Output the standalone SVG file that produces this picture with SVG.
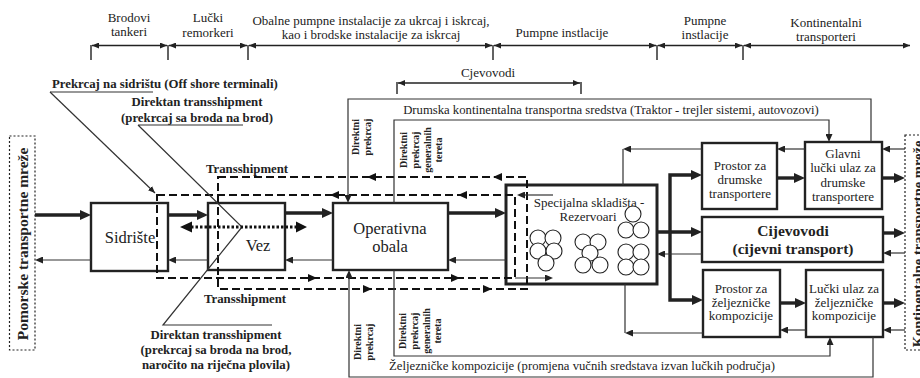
<svg xmlns="http://www.w3.org/2000/svg" xmlns:xlink="http://www.w3.org/1999/xlink" width="920" height="378" viewBox="0 0 920 378" font-family="'Liberation Serif', 'Times New Roman', serif">
<style>
  text { font-family: "Liberation Serif", "Times New Roman", serif; fill: #222; }
  .t13 { font-size: 13px; }
  .long { font-size: 12.7px; text-anchor: middle; }
  .b13 { font-size: 12.8px; font-weight: bold; }
  .bx { font-size: 13px; text-anchor: middle; }
  .big { font-size: 16.5px; text-anchor: middle; }
  .pipe { font-size: 15.5px; font-weight: bold; text-anchor: middle; }
  .vl { font-size: 10px; font-weight: bold; text-anchor: middle; }
  .box { fill: #fff; stroke: #222; stroke-width: 2.4; }
  .store { fill: #fff; stroke: #222; stroke-width: 3; }
  .net { fill: none; stroke: #222; stroke-width: 1.2; stroke-dasharray: 2 2; }
  .thin { fill: none; stroke: #333; stroke-width: 1.2; }
  .dim { fill: none; stroke: #222; stroke-width: 1.4; }
  .thick { fill: none; stroke: #222; stroke-width: 3.4; }
  .dash { fill: none; stroke: #111; stroke-width: 2; stroke-dasharray: 8 4; }
  .tank { fill: #fff; stroke: #222; stroke-width: 1.1; }
</style>
<defs>
  <marker id="aT" markerUnits="userSpaceOnUse" markerWidth="11" markerHeight="10" refX="4" refY="5" orient="auto-start-reverse">
    <path d="M0,0 L11,5 L0,10 z" fill="#222"/>
  </marker>
  <marker id="at" markerUnits="userSpaceOnUse" markerWidth="8" markerHeight="7" refX="3" refY="3.5" orient="auto-start-reverse">
    <path d="M0,0 L8,3.5 L0,7 z" fill="#222"/>
  </marker>
  <marker id="as" markerUnits="userSpaceOnUse" markerWidth="7" markerHeight="6" refX="7" refY="3" orient="auto-start-reverse">
    <path d="M0,0 L7,3 L0,6 z" fill="#222"/>
  </marker>
  <path id="tl" d="M0,0 L9,-4 L9,4 z" fill="#111"/>
  <path id="tr" d="M0,0 L-9,-4 L-9,4 z" fill="#111"/>
</defs>
<rect width="920" height="378" fill="#fff"/>

<!-- range scale along the top -->
<g id="scale">
  <g class="t13" text-anchor="middle">
    <text x="129" y="22">Brodovi</text>
    <text x="129" y="36">tankeri</text>
    <text x="208" y="22">Lučki</text>
    <text x="208" y="37">remorkeri</text>
    <text x="371" y="25">Obalne pumpne instalacije za ukrcaj i iskrcaj,</text>
    <text x="371" y="39">kao i brodske instalacije za iskrcaj</text>
    <text x="562" y="37">Pumpne instlacije</text>
    <text x="705" y="25">Pumpne</text>
    <text x="705" y="39">instlacije</text>
    <text x="826" y="27">Kontinentalni</text>
    <text x="826" y="41">transporteri</text>
    <text x="488" y="77">Cjevovodi</text>
  </g>
  <path class="dim" d="M91,45 V60 M168,45 V60 M248,45 V60 M493,45 V60 M657,45 V60 M743,45 V60 M397,82 V94 M581,82 V94"/>
  <g class="dim" marker-start="url(#as)" marker-end="url(#as)">
    <path d="M92,45.5 H167"/>
    <path d="M169,45.5 H247"/>
    <path d="M249,45.5 H492"/>
    <path d="M494,45.5 H656"/>
    <path d="M658,45.5 H742"/>
    <path d="M744,45.5 H910"/>
    <path d="M398,83 H580"/>
  </g>
</g>

<!-- sea and land networks -->
<g id="pomorske">
  <rect class="net" x="9.5" y="136" width="25.5" height="214"/>
  <text transform="translate(28,244) rotate(-90)" style="font-size:15.5px;font-weight:bold;text-anchor:middle">Pomorske transportne mreže</text>
</g>
<g id="kontinentalne">
  <rect class="net" x="905" y="135" width="30" height="215"/>
  <text transform="translate(923,244) rotate(-90)" style="font-size:14.5px;font-weight:bold;text-anchor:middle">Kontinentalne transportne mreže</text>
</g>

<!-- port nodes -->
<g id="sidriste">
  <rect class="box" x="91" y="203" width="77" height="68"/>
  <text class="big" x="130" y="243">Sidrište</text>
</g>
<g id="vez">
  <rect class="box" x="208" y="203" width="77" height="67"/>
  <text class="big" x="258" y="251">Vez</text>
</g>
<g id="obala">
  <rect class="box" x="333" y="203" width="115" height="67"/>
  <text class="big" x="390" y="234">Operativna</text>
  <text class="big" x="390" y="252">obala</text>
</g>
<g id="skladista">
  <rect class="store" x="506" y="185" width="151" height="99"/>
  <text class="bx" x="589" y="207">Specijalna skladišta -</text>
  <text class="bx" x="588" y="221">Rezervoari</text>
  <g class="tank">
    <circle cx="538" cy="238" r="8"/><circle cx="553" cy="238" r="8"/>
    <circle cx="538" cy="251" r="8"/><circle cx="554" cy="251" r="8"/>
    <circle cx="546" cy="263" r="8"/>
    <circle cx="583" cy="242" r="8"/><circle cx="598" cy="242" r="8"/>
    <circle cx="590" cy="253" r="8"/>
    <circle cx="583" cy="265" r="8"/><circle cx="600" cy="265" r="8"/>
    <circle cx="633" cy="214" r="8"/>
    <circle cx="626" cy="230" r="8"/><circle cx="641" cy="230" r="8"/>
    <circle cx="626" cy="252" r="8"/><circle cx="641" cy="252" r="8"/>
    <circle cx="626" cy="267" r="8"/><circle cx="641" cy="267" r="8"/>
  </g>
</g>
<g id="prostor-drumske">
  <rect class="box" x="702" y="143" width="75" height="66"/>
  <text class="bx" x="740" y="170">Prostor za</text>
  <text class="bx" x="740" y="184">drumske</text>
  <text class="bx" x="740" y="198">transportere</text>
</g>
<g id="glavni-ulaz">
  <rect class="box" x="805" y="142" width="77" height="67"/>
  <text class="bx" x="843" y="158">Glavni</text>
  <text class="bx" x="843" y="172">lučki ulaz za</text>
  <text class="bx" x="843" y="187">drumske</text>
  <text class="bx" x="843" y="201">transportere</text>
</g>
<g id="cjevovodi">
  <rect class="box" x="702" y="217" width="181" height="45"/>
  <text class="pipe" x="793" y="236">Cijevovodi</text>
  <text class="pipe" x="793" y="254">(cijevni transport)</text>
</g>
<g id="prostor-zeljeznicke">
  <rect class="box" x="703" y="270" width="77" height="67"/>
  <text class="bx" x="741" y="293">Prostor za</text>
  <text class="bx" x="741" y="306.5">željezničke</text>
  <text class="bx" x="741" y="320">kompozicije</text>
</g>
<g id="lucki-ulaz">
  <rect class="box" x="806" y="270" width="77" height="67"/>
  <text class="bx" x="844" y="293">Lučki ulaz za</text>
  <text class="bx" x="844" y="306.5">željezničke</text>
  <text class="bx" x="844" y="320">kompozicije</text>
</g>

<!-- annotations -->
<g id="labels">
  <text class="b13" x="52" y="88">Prekrcaj na sidrištu (Off shore terminali)</text>
  <g class="b13" text-anchor="middle">
    <text x="197" y="106">Direktan transshipment</text>
    <text x="197" y="122">(prekrcaj sa broda na brod)</text>
    <text x="247" y="173">Transshipment</text>
    <text x="245" y="303">Transshipment</text>
    <text x="216" y="339">Direktan transshipment</text>
    <text x="216" y="354">(prekrcaj sa broda na brod,</text>
    <text x="216" y="369">naročito na riječna plovila)</text>
  </g>
  <text class="long" x="611" y="114">Drumska kontinentalna transportna sredstva (Traktor - trejler sistemi, autovozovi)</text>
  <text class="long" x="582" y="370">Željezničke kompozicije (promjena vučnih sredstava izvan lučkih područja)</text>
  <text class="vl" transform="translate(359,137) rotate(-90)">Direktni</text>
  <text class="vl" transform="translate(371,137) rotate(-90)">prekrcaj</text>
  <text class="vl" transform="translate(407,150) rotate(-90)">Direktni</text>
  <text class="vl" transform="translate(419,150) rotate(-90)">prekrcaj</text>
  <text class="vl" transform="translate(431,150) rotate(-90)">generalnih</text>
  <text class="vl" transform="translate(442,150) rotate(-90)">tereta</text>
  <text class="vl" transform="translate(361,342) rotate(-90)">Direktni</text>
  <text class="vl" transform="translate(373,342) rotate(-90)">prekrcaj</text>
  <text class="vl" transform="translate(406,331) rotate(-90)">Direktni</text>
  <text class="vl" transform="translate(418,331) rotate(-90)">prekrcaj</text>
  <text class="vl" transform="translate(430,331) rotate(-90)">generalnih</text>
  <text class="vl" transform="translate(441,331) rotate(-90)">tereta</text>
</g>

<g id="connectors">
  <!-- transshipment loops -->
  <path class="dash" d="M157,195 H515 V278 H157 Z"/>
  <path class="dash" d="M218,177 H527 V289 H218 Z"/>
  <use xlink:href="#tl" x="330" y="195"/><use xlink:href="#tl" x="458" y="195"/>
  <use xlink:href="#tr" x="317" y="278"/><use xlink:href="#tr" x="460" y="278"/>
  <use xlink:href="#tl" x="367" y="177"/><use xlink:href="#tl" x="493" y="177"/>
  <use xlink:href="#tr" x="372" y="289"/><use xlink:href="#tr" x="492" y="289"/>
  <path class="thin" d="M553,195 H522" marker-end="url(#at)"/>
  <path class="thin" d="M515,278 H548" marker-end="url(#at)"/>

  <!-- leader lines -->
  <path class="thin" d="M50,92 H153"/>
  <path class="thin" d="M50,92 L155,193" marker-end="url(#as)"/>
  <path class="thin" d="M138,125 H243 M138,125 L242,227 L163,325 H272"/>

  <!-- direct ship to ship -->
  <path d="M191,227 H297" fill="none" stroke="#111" stroke-width="3" stroke-dasharray="2.5 2"/>
  <path d="M180,227 L192,221.5 L192,232.5 Z M307,227 L296,221.5 L296,232.5 Z" fill="#111"/>

  <!-- main flows -->
  <g class="thick" marker-end="url(#aT)">
    <path d="M35,215 H84"/>
    <path d="M168,215 H201"/>
    <path d="M285,213 H326"/>
    <path d="M448,213 H499"/>
    <path d="M657,232 H695"/>
    <path d="M777,178 H798"/>
    <path d="M882,178 H898"/>
    <path d="M883,233 H898"/>
    <path d="M780,303 H799"/>
    <path d="M883,303 H898"/>
  </g>
  <path class="thick" d="M695,175 H670 V300 H696" marker-start="url(#aT)" marker-end="url(#aT)"/>

  <!-- return flows -->
  <g class="thin" marker-end="url(#at)">
    <path d="M91,260 H40"/>
    <path d="M208,260 H173"/>
    <path d="M333,260 H290"/>
    <path d="M506,260 H453"/>
    <path d="M702,254 H662"/>
    <path d="M805,149 H782"/>
    <path d="M905,149 H887"/>
    <path d="M905,253 H888"/>
    <path d="M806,330 H785"/>
    <path d="M905,330 H888"/>
    <path d="M702,149 H628"/>
    <path d="M703,333 H630"/>
    <path d="M871,142 V99 H348 V198"/>
    <path d="M394,203 V120 H829 V137"/>
    <path d="M394,270 V356 H830 V342"/>
    <path d="M873,337 V377 H349 V275"/>
  </g>
  <path class="thin" d="M623,149 V185 M625,333 V284"/>
</g>
</svg>
